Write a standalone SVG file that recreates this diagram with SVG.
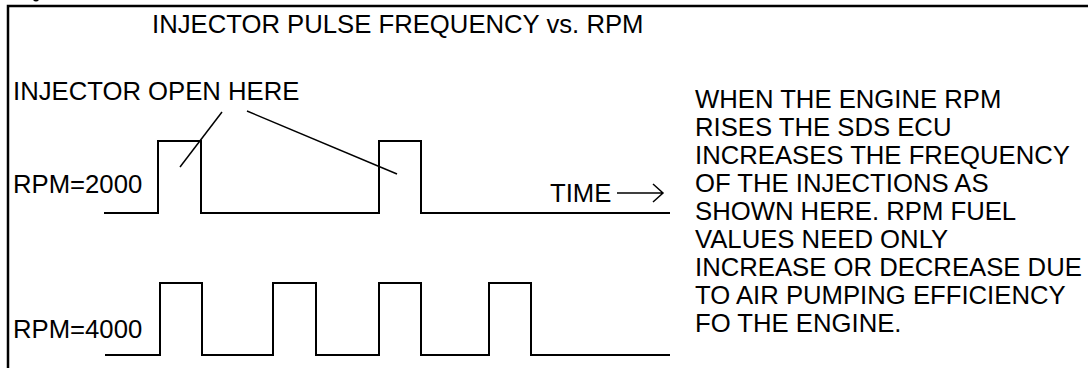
<svg xmlns="http://www.w3.org/2000/svg" width="1088" height="368" viewBox="0 0 1088 368">
  <style>
    .t { font-family: "Liberation Sans", Arial, sans-serif; font-size: 25.7px; fill: #000; }
    .w { fill: none; stroke: #000; stroke-width: 2; }
    .l { fill: none; stroke: #000; stroke-width: 1.5; }
  </style>
  <rect x="0" y="0" width="1088" height="368" fill="#fff"/>
  <g id="frame">
    <path d="M8,368 V6 H1088" fill="none" stroke="#000" stroke-width="2.5"/>
    <path d="M33,0 Q36,3 39,0 Z" fill="#000"/>
  </g>
  <g id="title"><text class="t" x="152" y="33">INJECTOR PULSE FREQUENCY vs. RPM</text></g>
  <g id="label-open"><text class="t" x="13" y="100">INJECTOR OPEN HERE</text></g>
  <g id="label-rpm2000"><text class="t" x="13" y="193">RPM=2000</text></g>
  <g id="label-rpm4000"><text class="t" x="13" y="338">RPM=4000</text></g>
  <g id="wave-2000"><path class="w" d="M104,213 H158 V141 H201 V213 H379 V141 H421 V213 H670"/></g>
  <g id="wave-4000"><path class="w" d="M105,355 H160 V283 H202 V355 H273 V283 H316 V355 H379 V283 H421 V355 H489 V283 H531 V355 H670"/></g>
  <g id="time-axis">
    <text class="t" x="550" y="202">TIME</text>
  </g>
  <g id="connectors">
    <path class="l" d="M222,112 L180,167"/>
    <path class="l" d="M247,111 L397,174"/>
    <path class="l" d="M617,193 H663 M653,184 L663,193 L653,202"/>
  </g>
  <g id="note">
    <text class="t" x="695" y="108">WHEN THE ENGINE RPM</text>
    <text class="t" x="695" y="136">RISES THE SDS ECU</text>
    <text class="t" x="695" y="164">INCREASES THE FREQUENCY</text>
    <text class="t" x="695" y="192">OF THE INJECTIONS AS</text>
    <text class="t" x="695" y="220">SHOWN HERE. RPM FUEL</text>
    <text class="t" x="695" y="248">VALUES NEED ONLY</text>
    <text class="t" x="695" y="276">INCREASE OR DECREASE DUE</text>
    <text class="t" x="695" y="304">TO AIR PUMPING EFFICIENCY</text>
    <text class="t" x="695" y="332">FO THE ENGINE.</text>
  </g>
</svg>
